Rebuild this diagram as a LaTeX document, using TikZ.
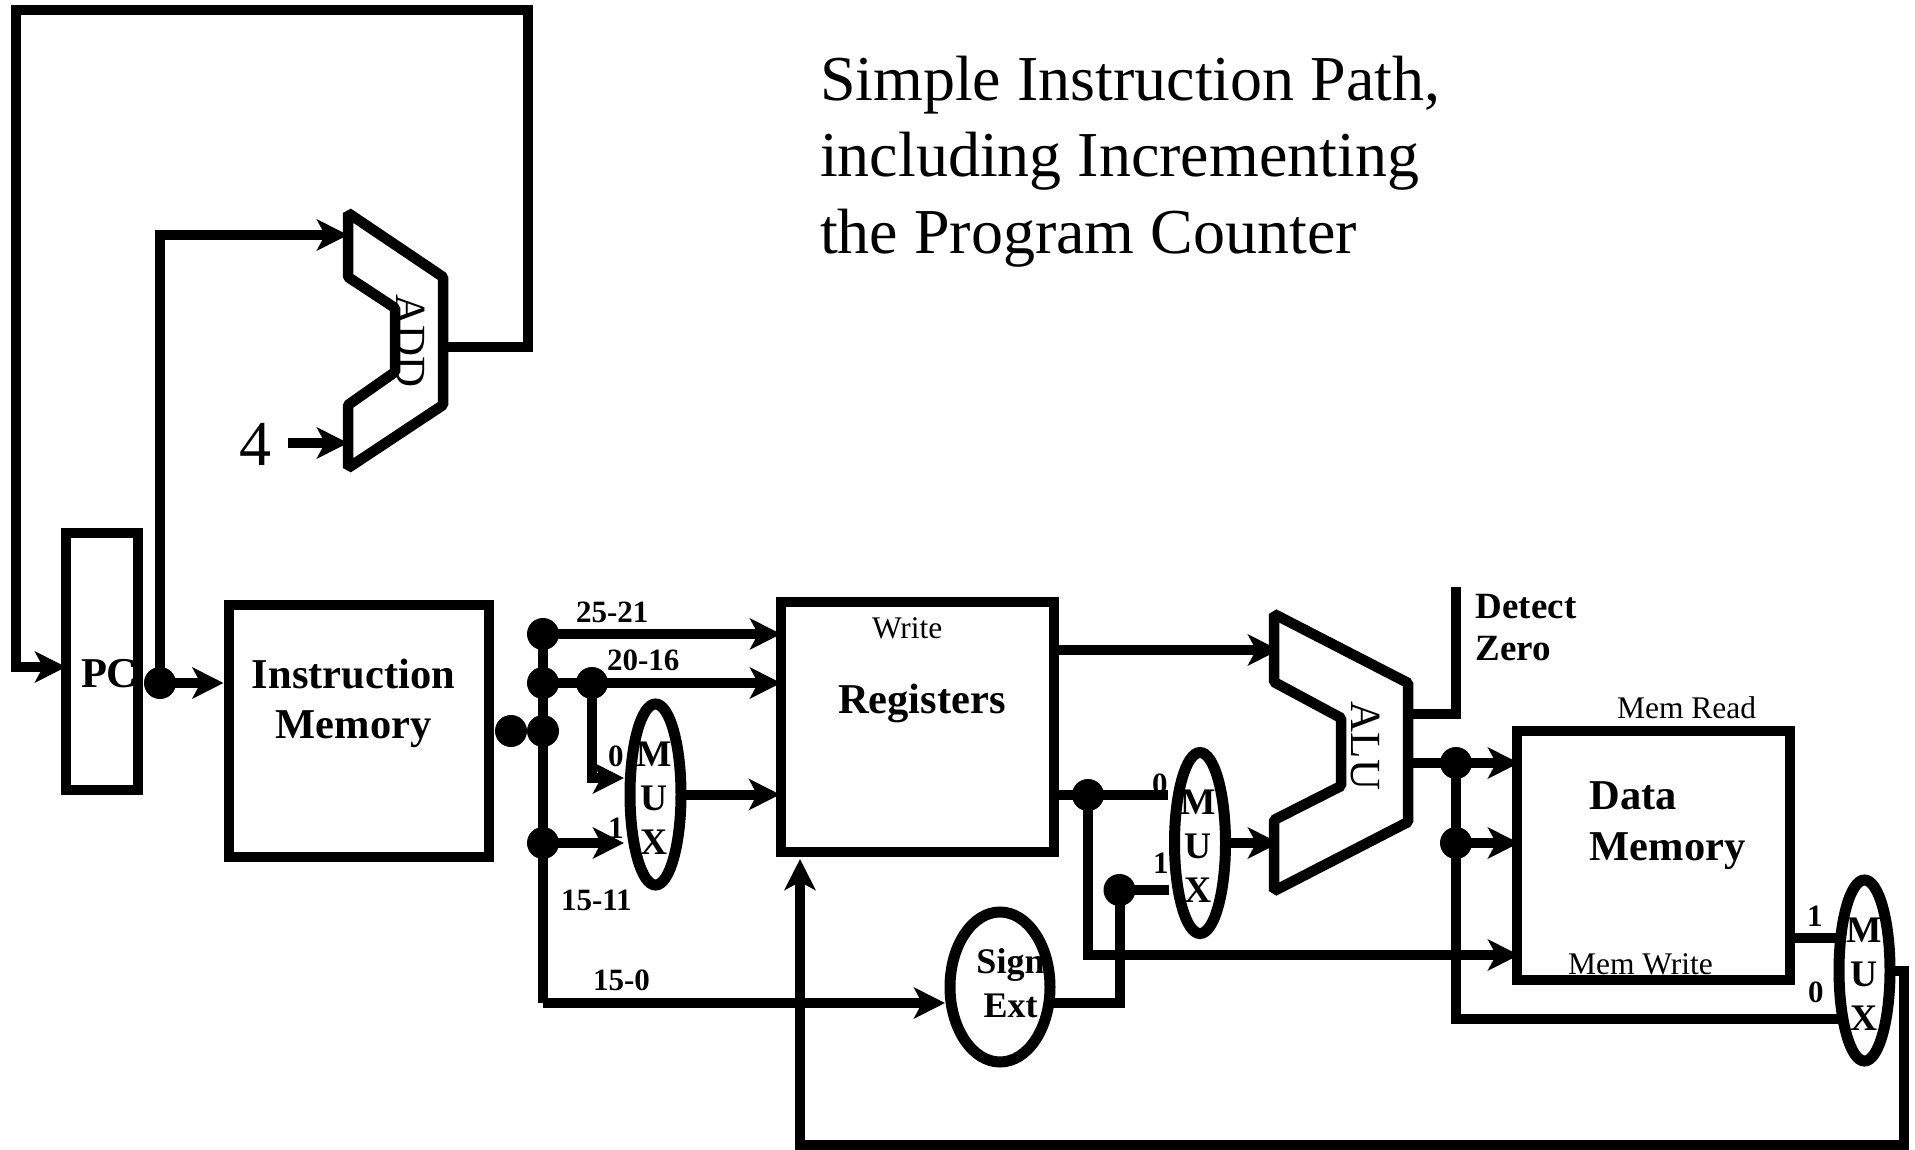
\documentclass[tikz,border=0pt]{standalone}
\usepackage{fontspec}
\setmainfont{Liberation Serif}
\usetikzlibrary{arrows.meta,calc,shapes.geometric}
\tikzset{
  unit/.style={draw=black,line width=10pt,inner sep=0pt,outer sep=0pt,line join=miter},
  muxshape/.style={unit,ellipse,line width=11pt,minimum width=51pt,minimum height=181pt},
  wire/.style={draw=black,line width=10pt,line join=miter,line cap=butt},
  arrowwire/.style={wire,-{Stealth[length=31pt,width=31pt,inset=8pt]}},
  alushape/.style={draw=black,line width=10.5pt,line join=bevel},
  junction/.style={circle,fill=black,draw=none,minimum size=32pt,inner sep=0pt,outer sep=0pt},
  lab/.style={inner sep=0pt,outer sep=0pt,anchor=base west},
  title/.style={lab,font=\fontsize{64}{76}\selectfont,align=left},
  big/.style={inner sep=0pt,font=\fontsize{42.5}{50}\selectfont\bfseries},
  bit/.style={lab,font=\fontsize{31}{37}\selectfont\bfseries},
  plain/.style={lab,font=\fontsize{31.5}{37}\selectfont},
  muxtext/.style={inner sep=0pt,font=\fontsize{37.5}{44}\selectfont\bfseries,align=center},
}
\begin{document}
\begin{tikzpicture}[x=1pt,y=-1pt]
\useasboundingbox (0,0) rectangle (1915,1150);
\fill[white] (0,0) rectangle (1915,1150);

% texts lie beneath the shapes
\node[title,anchor=base west] (ttl1) at (820,101) {Simple Instruction Path,};
\node[title,anchor=base west] (ttl2) at (820,177) {including Incrementing};
\node[title,anchor=base west] (ttl3) at (820,254) {the Program Counter};
\node[lab,font=\fontsize{64}{70}\selectfont] (four) at (239,465) {4};
\node[big,lab] (pctext) at (81,687) {PC};
\node[big,align=center,anchor=center] (imtext) at (353.5,703) {Instruction\\Memory};
\node[big,lab] (regtext) at (838,713) {Registers};
\node[plain] (writetext) at (872,638) {Write};
\node[big,align=left,anchor=center,font=\fontsize{42.5}{51}\selectfont\bfseries] (dmtext) at (1667.5,826) {Data\\Memory};
\node[plain] (mrtext) at (1617,718) {Mem Read};
\node[plain] (mwtext) at (1568,974) {Mem Write};
\node[inner sep=0pt,font=\fontsize{37}{42}\selectfont\bfseries,align=left,anchor=center] (dztext) at (1526,628) {Detect\\Zero};
\node[inner sep=0pt,font=\fontsize{36}{44}\selectfont\bfseries,align=center,anchor=center] (sxtext) at (1010.5,983) {Sign\\Ext};
\node[bit] (b2521) at (576,622) {25-21};
\node[bit] (b2016) at (607,670) {20-16};
\node[bit] (b1511) at (561,910) {15-11};
\node[bit] (b150) at (593,990) {15-0};
\node[bit] (m1z) at (608,766) {0};
\node[bit] (m1o) at (608,838) {1};
\node[bit] (m2z) at (1152,794) {0};
\node[bit] (m2o) at (1153,873) {1};
\node[bit] (m3o) at (1807,926) {1};
\node[bit] (m3z) at (1808,1002) {0};
\node[muxtext,anchor=center] (m1text) at (654.5,798) {M\\U\\X};
\node[muxtext,anchor=center] (m2text) at (1198.5,846) {M\\U\\X};
\node[muxtext,anchor=center] (m3text) at (1864,974) {M\\U\\X};
\node[rotate=-90,inner sep=0pt,font=\fontsize{43}{50}\selectfont] (addtext) at (411,341) {ADD};
\node[rotate=-90,inner sep=0pt,font=\fontsize{43}{50}\selectfont] (alutext) at (1365,746) {ALU};

% units
\node[unit,minimum width=72pt,minimum height=257pt] (pc) at (102,661.5) {};
\node[unit,minimum width=260.5pt,minimum height=252.5pt] (im) at (358.75,730.75) {};
\node[unit,minimum width=273pt,minimum height=250pt] (reg) at (917.5,727) {};
\node[unit,minimum width=273pt,minimum height=249pt] (dm) at (1653.5,855.5) {};
\node[muxshape] (mux1) at (655.5,794.5) {};
\node[muxshape] (mux2) at (1200,843) {};
\node[muxshape] (mux3) at (1864.5,970.5) {};
\node[unit,ellipse,line width=11pt,minimum width=100pt,minimum height=150pt] (sx) at (1000,987) {};

% adder and ALU outlines
\draw[alushape] (348,213) coordinate (adda) -- (443,277) -- (443,347) coordinate (addout) -- (443,405) -- (348,468) -- (348,405) -- (395,372) -- (395,308) -- (348,277) -- cycle;
\draw[alushape] (1274,614) coordinate (alua) -- (1408,683) -- (1408,822) -- (1274,891) -- (1274,820) -- (1341,786) -- (1341,718) -- (1274,682) -- cycle;
\coordinate (alutop) at (1408,714);
\coordinate (aluout) at (1408,763);

% junctions
\node[junction] (jpc) at (160,683) {};
\node[junction] (jim) at (511,731) {};
\node[junction] (j1) at (543,634) {};
\node[junction] (j2) at (543,683) {};
\node[junction] (j3) at (543,731) {};
\node[junction] (j4) at (543,843) {};
\node[junction] (j5) at (592,683) {};
\node[junction] (j6) at (1088,795) {};
\node[junction] (j7) at (1119.5,890) {};
\node[junction] (j8) at (1456,763) {};
\node[junction] (j9) at (1456,843) {};

% free ends and bends
\coordinate (in4) at (288,443);
\coordinate (loopc) at (528,10.5);
\coordinate (loopb) at (15.5,10.5);
\coordinate (busend) at (543,1003);
\coordinate (zeroend) at (1456,587);
\coordinate (feedr) at (1904,1145);
\coordinate (feedl) at (800,1145);

% connectors
\draw[arrowwire] (addout) -- (loopc |- addout) -- (loopc) -- (loopb) -- (loopb |- 0,667) -- (pc.west |- 0,667);
\draw[arrowwire] (jpc.center) -- (jpc.center |- 0,235) -- (348,235);
\draw[arrowwire] (in4) -- (348,443);
\draw[arrowwire,shorten >=5pt] (jpc.center) -- (jpc.center -| im.west);
\draw[wire] (j1.center) -- (busend);
\draw[arrowwire] (j1.center) -- (j1.center -| reg.west);
\draw[arrowwire] (j2.center) -- (j5.center) -- (j5.center -| reg.west);
\draw[arrowwire] (j5.center) -- (j5.center |- 0,778) -- (624,778);
\draw[arrowwire] (j4.center) -- (624,843);
\draw[arrowwire,shorten >=1pt] (mux1.east) -- (mux1.east -| reg.west);
\draw[arrowwire] (busend) -- (945,1003);
\draw[wire] (sx.east |- busend) -- (j7.center |- busend) -- (j7.center);
\draw[wire] (j7.center) -- (1169,890);
\draw[arrowwire] (reg.east |- 0,650) -- (1279,650);
\draw[wire] (reg.east |- j6.center) -- (1168,795);
\draw[arrowwire] (j6.center) -- (j6.center |- 0,955) -- (1519,955);
\draw[arrowwire] (mux2.east) -- (1279,843);
\draw[wire] (alutop) -- (zeroend |- alutop) -- (zeroend);
\draw[arrowwire] (aluout) -- (1519,763);
\draw[arrowwire] (j9.center) -- (1519,843);
\draw[wire] (j8.center) -- (j9.center) -- (j9.center |- 0,1019) -- (1838,1019);
\draw[wire] (dm.east |- 0,938) -- (1836,938);
\draw[arrowwire] (mux3.east) -- (feedr |- mux3.east) -- (feedr) -- (feedl) -- (800,859);
\end{tikzpicture}
\end{document}
